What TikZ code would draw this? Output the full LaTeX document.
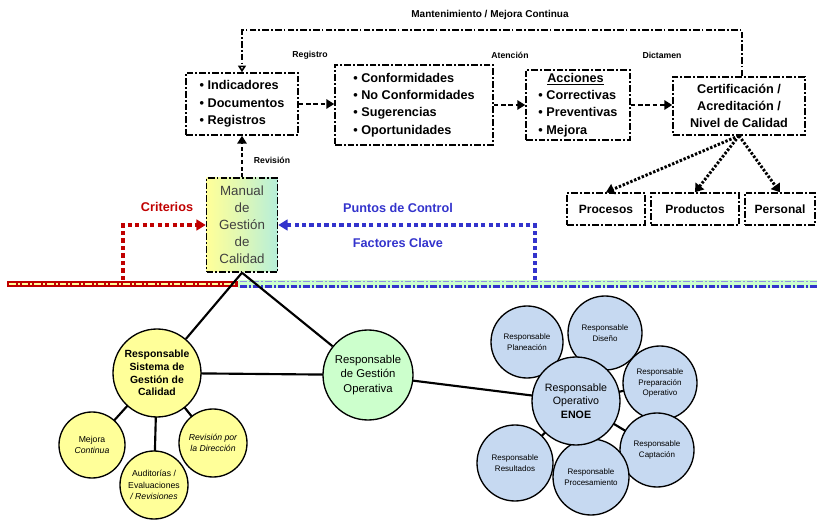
\documentclass[tikz,border=0pt]{standalone}
\usepackage{fontspec}
\setmainfont{Liberation Sans}
\usetikzlibrary{arrows.meta,backgrounds}
\definecolor{critred}{HTML}{C00000}
\definecolor{ctrlblue}{HTML}{3333CC}
\definecolor{qyellow}{HTML}{FFFF99}
\definecolor{qgreen}{HTML}{CCFFCC}
\definecolor{qblue}{HTML}{C6D9F1}
\definecolor{qteal}{HTML}{B6EED9}
\tikzset{
  dashdot/.style={dash pattern=on 5pt off 1.6pt on 1.3pt off 1.6pt},
  infobox/.style={draw, dashdot, line width=1.1pt, inner sep=2pt,
    font=\bfseries\fontsize{9.5}{13}\selectfont},
  smallbox/.style={draw, dashdot, line width=1.1pt, inner sep=1pt,
    minimum height=24pt, font=\bfseries\fontsize{9}{11}\selectfont},
  flowlabel/.style={font=\bfseries\fontsize{6.5}{8}\selectfont},
  flowarrow/.style={line width=2.2pt, dash pattern=on 3.5pt off 2pt,
    -{Triangle[length=6pt,width=7pt]}},
  fanarrow/.style={line width=2.2pt, dash pattern=on 1.8pt off 1.3pt,
    -{Triangle[length=6pt,width=8pt]}},
  looparrow/.style={line width=1.2pt, dashdot, -{Triangle[length=5pt,width=6pt,open]}},
  ctrlarrow/.style={line width=3pt, dash pattern=on 3.2pt off 2.4pt,
    -{Triangle[length=7pt,width=8pt]}},
  bubble/.style={circle, draw, line width=1pt, inner sep=0pt, align=center},
  link/.style={line width=1.6pt}
}
\begin{document}
\begin{tikzpicture}[x=0.75pt,y=-0.75pt]
\useasboundingbox (0,0) rectangle (817,520);

% ---------- process boxes ----------
\node[infobox, minimum width=84pt, minimum height=46.5pt, align=left] (ind) at (242,104)
  {• Indicadores\\• Documentos\\• Registros};
\node[infobox, minimum width=118.5pt, minimum height=60pt, align=left] (conf) at (414,105)
  {• Conformidades\\• No Conformidades\\• Sugerencias\\• Oportunidades};
\node[infobox, minimum width=78pt, minimum height=52.5pt, align=left] (acc) at (578,105)
  {\hspace*{0.7em}\underline{Acciones}\\• Correctivas\\• Preventivas\\• Mejora};
\node[infobox, minimum width=99pt, minimum height=43.5pt, align=center] (cert) at (739,106)
  {Certificación /\\Acreditación /\\Nivel de Calidad};

\node[smallbox, minimum width=58.5pt] (procs) at (606,209) {Procesos};
\node[smallbox, minimum width=66pt] (prods) at (695,209) {Productos};
\node[smallbox, minimum width=52.5pt] (pers) at (780,209) {Personal};

% ---------- flow between the boxes ----------
\draw[flowarrow] (ind.east) -- (ind.east -| conf.west);
\draw[flowarrow] (conf.east) -- (conf.east -| acc.west);
\draw[flowarrow] (acc.east) -- (acc.east -| cert.west);
\node[flowlabel] (lreg) at (310,55) {Registro};
\node[flowlabel] (late) at (510,55) {Atención};
\node[flowlabel] (ldic) at (662,55) {Dictamen};

\draw[fanarrow] (cert.south) -- (procs.north);
\draw[fanarrow] (cert.south) -- (prods.north);
\draw[fanarrow] (cert.south) -- (pers.north);

% ---------- continual improvement loop ----------
\coordinate (loopR) at (742,30);
\draw[looparrow] (cert.north -| loopR) -- (loopR) -| (ind.north);
\node[font=\bfseries\fontsize{7.5}{9}\selectfont] (ltitle) at (490,15)
  {Mantenimiento / Mejora Continua};

% ---------- quality manual ----------
\node[draw, dashdot, line width=1.1pt, minimum width=53.25pt, minimum height=70.5pt,
  left color=qyellow, right color=qteal, middle color=qyellow!55!qteal,
  align=center, text=black!75, font=\fontsize{10}{12.8}\selectfont] (manual) at (242,225)
  {Manual\\de\\Gestión\\de\\Calidad};
\draw[line width=2pt, dash pattern=on 3pt off 2pt, -{Triangle[length=6pt,width=7pt]}]
  (manual.north) -- (manual.north |- ind.south);
\node[flowlabel] (lrev) at (272,160) {Revisión};

% ---------- separating band ----------
\draw[critred, line width=5pt] (7,284) -- (238,284);
\draw[qyellow, line width=2pt, dashdot] (9,284) -- (236,284);
\draw[qgreen, line width=6pt] (238,284) -- (817,284);
\draw[ctrlblue!55, line width=1pt, dashdot] (240,281.5) -- (817,281.5);
\draw[ctrlblue, line width=1.8pt, dashdot] (240,286.5) -- (817,286.5);

% ---------- criteria and control points ----------
\coordinate (critbase) at (123,280);
\coordinate (ctrlbase) at (535,280);
\draw[critred, ctrlarrow] (critbase) |- (manual.west);
\draw[ctrlblue, ctrlarrow] (ctrlbase) |- (manual.east);
\node[text=critred, font=\bfseries\fontsize{9.5}{11}\selectfont] (lcrit) at (167,207) {Criterios};
\node[text=ctrlblue, font=\bfseries\fontsize{9.5}{11}\selectfont] (lpts) at (398,208) {Puntos de Control};
\node[text=ctrlblue, font=\bfseries\fontsize{9.5}{11}\selectfont] (lfac) at (398,243) {Factores Clave};

% ---------- responsibility bubbles ----------
\node[bubble, fill=qyellow, minimum size=66pt, font=\bfseries\fontsize{7.8}{9.6}\selectfont] (sgc) at (157,373)
  {Responsable\\Sistema de\\Gestión de\\Calidad};
\node[bubble, fill=qgreen, minimum size=67.5pt, font=\fontsize{8.5}{11}\selectfont] (rgo) at (368,375)
  {Responsable\\de Gestión\\Operativa};
\node[bubble, fill=qyellow, minimum size=49.5pt, font=\fontsize{6.5}{8.5}\selectfont] (mc) at (92,445)
  {Mejora\\\textit{Continua}};
\node[bubble, fill=qyellow, minimum size=51pt, font=\fontsize{6.5}{8.5}\selectfont] (aud) at (154,485)
  {Auditorías /\\Evaluaciones\\\textit{/ Revisiones}};
\node[bubble, fill=qyellow, minimum size=51pt, font=\itshape\fontsize{6.5}{8.5}\selectfont] (rev) at (213,443)
  {Revisión por\\la Dirección};

\node[bubble, fill=qblue, minimum size=54pt, font=\fontsize{6}{8}\selectfont] (plan) at (527,342)
  {Responsable\\Planeación};
\node[bubble, fill=qblue, minimum size=55.5pt, font=\fontsize{6}{8}\selectfont] (dis) at (605,333)
  {Responsable\\Diseño};
\node[bubble, fill=qblue, minimum size=55.5pt, font=\fontsize{6}{8}\selectfont] (prep) at (660,383)
  {Responsable\\Preparación\\Operativo};
\node[bubble, fill=qblue, minimum size=55.5pt, font=\fontsize{6}{8}\selectfont] (cap) at (657,450)
  {Responsable\\Captación};
\node[bubble, fill=qblue, minimum size=57pt, font=\fontsize{6}{8}\selectfont] (proc) at (591,477)
  {Responsable\\Procesamiento};
\node[bubble, fill=qblue, minimum size=57pt, font=\fontsize{6}{8}\selectfont] (res) at (515,463)
  {Responsable\\Resultados};
\node[bubble, fill=qblue, minimum size=66pt, font=\fontsize{8}{10}\selectfont] (enoe) at (576,401)
  {Responsable\\Operativo\\\textbf{ENOE}};

% ---------- links from the manual, drawn over the band ----------
\draw[link] (manual.south) -- (sgc);
\draw[link] (manual.south) -- (rgo);

% ---------- remaining links, kept behind the bubbles ----------
\begin{pgfonlayer}{background}
\draw[link] (sgc.center) -- (rgo.center);
\draw[link] (sgc.center) -- (mc.center);
\draw[link] (sgc.center) -- (aud.center);
\draw[link] (sgc.center) -- (rev.center);
\draw[link] (rgo.center) -- (enoe.center);
\draw[link] (enoe.center) -- (plan.center);
\draw[link] (enoe.center) -- (dis.center);
\draw[link] (enoe.center) -- (prep.center);
\draw[link] (enoe.center) -- (cap.center);
\draw[link] (enoe.center) -- (proc.center);
\draw[link] (enoe.center) -- (res.center);
\end{pgfonlayer}
\end{tikzpicture}
\end{document}
